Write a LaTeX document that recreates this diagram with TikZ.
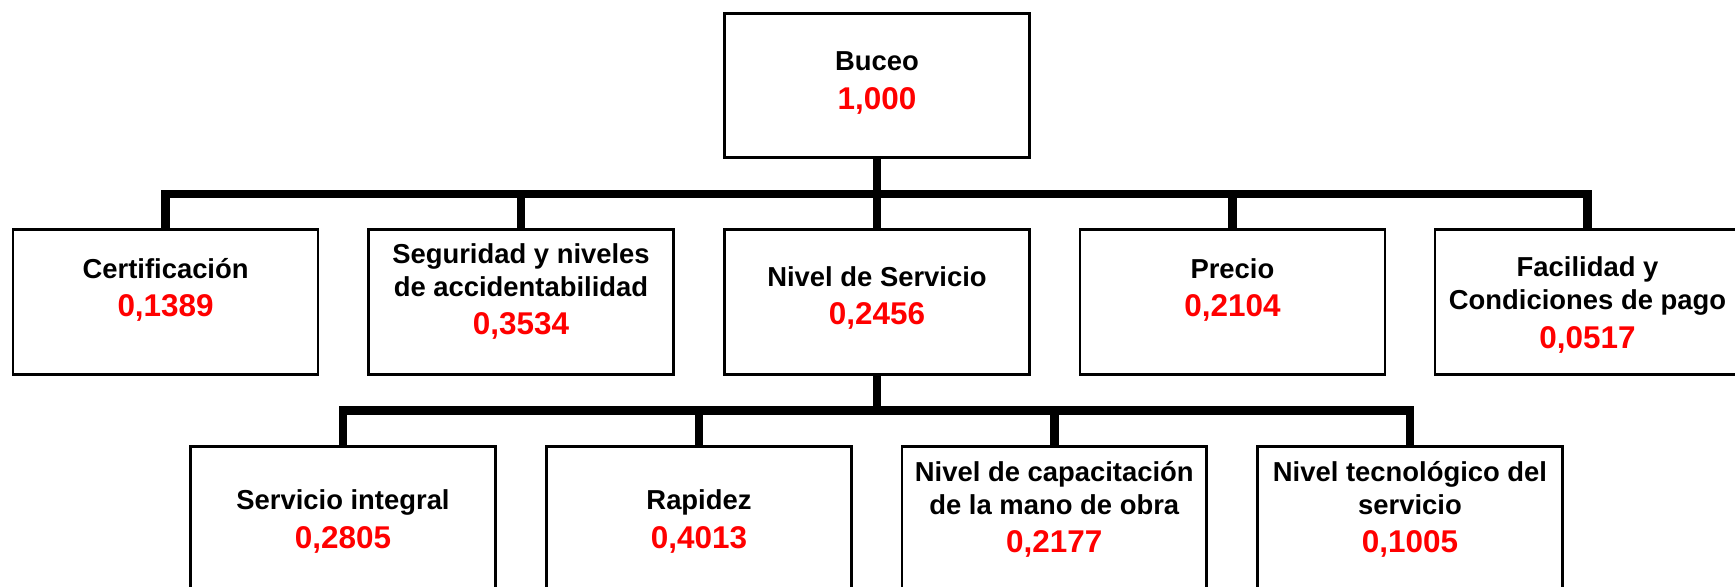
\documentclass[tikz,border=0pt]{standalone}
\usepackage{fontspec}
\setmainfont{Liberation Sans}
\usetikzlibrary{calc}
\tikzstyle{caja}=[rectangle,draw=black,fill=white,line width=1.5pt,minimum width=6.1cm,minimum height=2.9cm,inner sep=0pt,anchor=center]
\tikzstyle{rotulo}=[align=center,anchor=base,inner sep=0pt,font=\fontsize{15.6}{18.8}\selectfont\bfseries]
\tikzstyle{conector}=[draw=black,line width=5.1pt]
\newcommand{\valor}[1]{\textcolor{red}{\fontsize{17.9}{21.5}\selectfont #1}}

\begin{document}
\begin{tikzpicture}[x=0.02cm,y=-0.02cm]
	\useasboundingbox (0,0) rectangle (1735,587);
	\clip (0,0) rectangle (1735,587);

	% nivel 0
	\node[caja, minimum height=2.88cm](buceo) at (877,85.3){};
	\node[rotulo] at (877,109.3) {Buceo\\[3pt]\valor{1,000}};

	% nivel 1
	\node[caja](cert) at (165.6,302){};
	\node[caja](segur) at (521,302){};
	\node[caja](nivel) at (877,302){};
	\node[caja](precio) at (1232.4,302){};
	\node[caja](facil) at (1587.5,302){};

	\node[rotulo] at (165.6,316.7) {Certificación\\[3pt]\valor{0,1389}};
	\node[rotulo] at (521,335) {Seguridad y niveles\\de accidentabilidad\\[3pt]\valor{0,3534}};
	\node[rotulo] at (877,325) {Nivel de Servicio\\[3pt]\valor{0,2456}};
	\node[rotulo] at (1232.4,316.7) {Precio\\[3pt]\valor{0,2104}};
	\node[rotulo] at (1587.5,348.3) {Facilidad y\\Condiciones de pago\\[3pt]\valor{0,0517}};

	% nivel 2
	\node[caja](integral) at (343,519){};
	\node[caja](rapidez) at (699,519){};
	\node[caja](capac) at (1054.3,519){};
	\node[caja](tecno) at (1410,519){};

	\node[rotulo] at (343,548.3) {Servicio integral\\[3pt]\valor{0,2805}};
	\node[rotulo] at (699,548.3) {Rapidez\\[3pt]\valor{0,4013}};
	\node[rotulo] at (1054.3,552.7) {Nivel de capacitación\\de la mano de obra\\[3pt]\valor{0,2177}};
	\node[rotulo] at (1410,552.7) {Nivel tecnológico del\\servicio\\[3pt]\valor{0,1005}};

	% conectores
	\coordinate (barra1) at (877,194);
	\coordinate (barra2) at (877,410.5);
	\draw[conector] (buceo.south) -- (barra1) -| (cert.north);
	\draw[conector] (buceo.south) -- (barra1) -| (segur.north);
	\draw[conector] (buceo.south) -- (nivel.north);
	\draw[conector] (buceo.south) -- (barra1) -| (precio.north);
	\draw[conector] (buceo.south) -- (barra1) -| (facil.north);

	\draw[conector] (nivel.south) -- (barra2) -| (integral.north);
	\draw[conector] (nivel.south) -- (barra2) -| (rapidez.north);
	\draw[conector] (nivel.south) -- (barra2) -| (capac.north);
	\draw[conector] (nivel.south) -- (barra2) -| (tecno.north);
\end{tikzpicture}
\end{document}
